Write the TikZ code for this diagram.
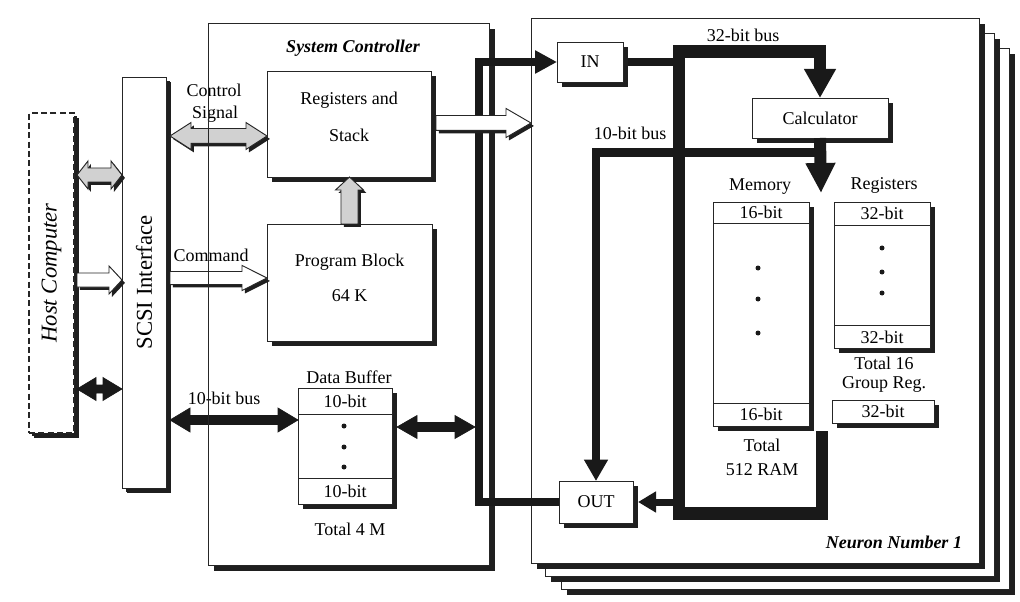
\documentclass[tikz,border=0pt]{standalone}
\usepackage{fontspec}
\setmainfont{Liberation Serif}
\usetikzlibrary{shadows,calc,arrows.meta}
% horizontal single fat arrow: style, tail, tip, shaft half, head half, head length
\newcommand\fatone[6]{%
  \draw[#1] let \p1=(#2), \p2=(#3), \n1={sign(\x2-\x1)} in
   (\x1,\y1+#4) -- (\x2-\n1*#6,\y1+#4) -- (\x2-\n1*#6,\y1+#5) -- (\x2,\y1)
   -- (\x2-\n1*#6,\y1-#5) -- (\x2-\n1*#6,\y1-#4) -- (\x1,\y1-#4) -- cycle;}
% horizontal double fat arrow
\newcommand\fattwo[6]{%
  \draw[#1] let \p1=(#2), \p2=(#3), \n1={sign(\x2-\x1)} in
   (\x1,\y1) -- (\x1+\n1*#6,\y1+#5) -- (\x1+\n1*#6,\y1+#4) -- (\x2-\n1*#6,\y1+#4)
   -- (\x2-\n1*#6,\y1+#5) -- (\x2,\y1) -- (\x2-\n1*#6,\y1-#5) -- (\x2-\n1*#6,\y1-#4)
   -- (\x1+\n1*#6,\y1-#4) -- (\x1+\n1*#6,\y1-#5) -- cycle;}
\begin{document}
\begin{tikzpicture}[x=0.75pt,y=-0.75pt,
  every node/.style={font=\fontsize{13.5}{16}\selectfont, inner sep=0pt, outer sep=0pt},
  sz/.style 2 args={minimum width=#1*0.75pt, minimum height=#2*0.75pt},
  shd/.style={drop shadow={shadow xshift=#1, shadow yshift=-#1, fill=black!88, opacity=1}},
  box/.style={draw=black!85, line width=0.7pt, fill=white, shd=3.75pt},
  bigbox/.style={draw=black!85, line width=0.7pt, fill=white, shd=4.5pt},
  bus/.style={draw=black!90, line width=#1, line join=miter},
  fatgray/.style={draw=black!85, line width=0.7pt, fill=black!18, shd=2.2pt},
  fatwhite/.style={draw=black!85, line width=0.7pt, fill=white, shd=2.2pt},
  fatblack/.style={fill=black!90, draw=black!90, line width=0.5pt},
  rowline/.style={draw=black!85, line width=0.6pt},
  dotm/.style={fill=black!90},
  big/.style={font=\fontsize{17}{20}\selectfont},
  title/.style={font=\fontsize{13.5}{16}\selectfont\bfseries\itshape}
]
\useasboundingbox (0,0) rectangle (1020,602);

% ---------- neuron stack and system controller ----------
\node[bigbox, sz={448}{541}] (n3) at (785,318.5) {};
\node[bigbox, sz={449}{543}] (n2) at (769.5,304.5) {};
\node[bigbox, sz={448}{545}] (n1) at (755,290.5) {};
\node[bigbox, sz={281}{542}] (sys) at (348.5,294) {};

% ---------- host and SCSI ----------
\node[box, dash pattern=on 4.5pt off 2.5pt, line width=0.8pt, sz={45}{320}, shd=2.25pt] (host) at (51.5,273) {};
\node[rotate=90, font=\fontsize{17}{20}\selectfont\itshape] (hostT) at (host) {Host Computer};
\node[box, sz={44}{411}, shd=3pt] (scsi) at (144,282.5) {};
\node[rotate=90, big] (scsiT) at (scsi) {SCSI Interface};

% ---------- helper coordinates ----------
\coordinate (lbx) at (479,0);
\coordinate (b32tl) at (679,51.5);
\coordinate (b32bl) at (679,513.5);
\coordinate (b32br) at (822,513.5);
\coordinate (b32end) at (822,431);
\coordinate (t10a) at (821,152.5);
\coordinate (t10b) at (596,152.5);
\coordinate (calcTip) at (821,193);

% ---------- inner boxes of neuron (placed first for anchors) ----------
\node[box, sz={66}{40}] (in) at (590,62) {IN};
\node[box, sz={74}{42}] (out) at (596,502) {OUT};
\node[box, sz={136}{40}] (calc) at (820,118) {Calculator};

% ---------- buses ----------
\draw[bus=6.4pt, -{Triangle[length=16.5pt,width=16.5pt]}]
  (out.west) -- (out.west -| lbx) -- (in.west -| lbx) -- (in.west);
\draw[bus=6pt] (in.east) -- (in.east -| b32tl);
\draw[bus=9.4pt, -{Triangle[length=21.75pt,width=22.5pt]}]
  (b32end) -- (b32br) -- (b32bl) -- (b32tl) -- (b32tl -| calc.north) -- (calc.north);
\draw[bus=9pt, -{Triangle[length=22.5pt,width=21pt]}] (calc.south) -- (calcTip);
\draw[bus=6.4pt, -{Triangle[length=16pt,width=17pt]}] (t10a) -- (t10b) -- (out.north);
\draw[bus=5.25pt, -{Triangle[length=13.5pt,width=15pt]}] (out.east -| b32bl) -- ([xshift=3.75pt]out.east);

% redraw boxes over bus ends
\node[box, sz={66}{40}] (in2) at (in) {IN};
\node[box, sz={74}{42}] (out2) at (out) {OUT};

% ---------- system controller contents ----------
\node[title] (sysT) at (353,48) {System Controller};
\node[box, sz={164}{106}] (regs) at (349,124) {};
\node (regsT1) at (349,100) {Registers and};
\node (regsT2) at (349,135) {Stack};
\node[box, sz={165}{117}] (prog) at (349.5,282.5) {};
\node (progT1) at (349.5,262) {Program Block};
\node (progT2) at (349.5,296) {64 K};

\node[box, sz={94}{116}] (buf) at (345,446) {};
\draw[rowline] ($(buf.north west)+(0,26)$) -- ($(buf.north east)+(0,26)$);
\draw[rowline] ($(buf.south west)+(0,-26)$) -- ($(buf.south east)+(0,-26)$);
\node (bufT1) at (345,401) {10-bit};
\node (bufT2) at (345,491) {10-bit};
\fill[dotm] (344,426) circle (2.5);
\fill[dotm] (344,447) circle (2.5);
\fill[dotm] (344,467) circle (2.5);
\node (bufL) at (349,377) {Data Buffer};
\node (bufB) at (350,529) {Total 4 M};

% ---------- neuron contents ----------
\node (b32T) at (743,35) {32-bit bus};
\node (b10nT) at (630,133) {10-bit bus};

\node[box, sz={96}{224}] (mem) at (761,314) {};
\draw[rowline] ($(mem.north west)+(0,21)$) -- ($(mem.north east)+(0,21)$);
\draw[rowline] ($(mem.south west)+(0,-23)$) -- ($(mem.south east)+(0,-23)$);
\node (memT1) at (761,212.5) {16-bit};
\node (memT2) at (761,414.5) {16-bit};
\fill[dotm] (758,268) circle (2.5);
\fill[dotm] (758,299) circle (2.5);
\fill[dotm] (758,333) circle (2.5);
\node (memL) at (760,187) {Memory};
\node (memB1) at (762,445) {Total};
\node (memB2) at (762,470) {512 RAM};

\node[box, sz={96}{146}] (reg) at (882,275) {};
\draw[rowline] ($(reg.north west)+(0,23)$) -- ($(reg.north east)+(0,23)$);
\draw[rowline] ($(reg.south west)+(0,-23)$) -- ($(reg.south east)+(0,-23)$);
\node (regT1) at (882,213.5) {32-bit};
\node (regT2) at (882,337) {32-bit};
\fill[dotm] (882,248) circle (2.5);
\fill[dotm] (882,272) circle (2.5);
\fill[dotm] (882,293) circle (2.5);
\node (regL) at (884,185) {Registers};
\node (regB1) at (884,363) {Total 16};
\node (regB2) at (884,384) {Group Reg.};
\node[box, sz={102}{23}] (reg32) at (883,411.5) {32-bit};

\node[title, anchor=east] (nT) at (962,542) {Neuron Number 1};

% ---------- fat arrows ----------
\coordinate (hostR) at ([xshift=2.25pt]host.east);
\coordinate (scsiR) at ([xshift=3pt]scsi.east);
\coordinate (regsR) at ([xshift=3.75pt]regs.east);
\coordinate (bufR) at ([xshift=3.75pt]buf.east);
\coordinate (lvA) at (0,175);
\coordinate (lvB) at (0,280);
\coordinate (lvC) at (0,389);
\coordinate (lvCS) at (0,136);
\coordinate (lvCmd) at (0,278);
\coordinate (lvRN) at (0,123);
\coordinate (lv10) at (0,420);
\coordinate (lvDB) at (0,427);
\coordinate (busL) at (475,0);

\fattwo{fatgray}{hostR |- lvA}{scsi.west |- lvA}{5.25pt}{10.5pt}{8.25pt}
\fatone{fatwhite}{hostR |- lvB}{scsi.west |- lvB}{5.25pt}{10.5pt}{9.75pt}
\fattwo{fatblack}{hostR |- lvC}{scsi.west |- lvC}{3pt}{8.6pt}{14.25pt}

\fattwo{fatgray}{scsiR |- lvCS}{regs.west |- lvCS}{5.6pt}{10.1pt}{15.75pt}
\fatone{fatwhite}{scsiR |- lvCmd}{prog.west |- lvCmd}{4.9pt}{9.4pt}{18.75pt}
\fatone{fatwhite}{regsR |- lvRN}{n1.west |- lvRN}{5.6pt}{10.9pt}{18.75pt}
\fattwo{fatblack}{scsiR |- lv10}{buf.west |- lv10}{3.4pt}{9pt}{15pt}
\fattwo{fatblack}{bufR |- lvDB}{busL |- lvDB}{3.4pt}{8.6pt}{15pt}

% program block -> registers (vertical)
\draw[fatgray] let \p1=(prog.north), \p2=(regs.south) in
  (\x1-6.4pt,\y1) -- (\x1-6.4pt,\y2-9.75pt) -- (\x1-10.5pt,\y2-9.75pt) -- (\x1,\y2)
  -- (\x1+10.5pt,\y2-9.75pt) -- (\x1+6.4pt,\y2-9.75pt) -- (\x1+6.4pt,\y1) -- cycle;

% ---------- labels on the left ----------
\node (csT1) at (214,90) {Control};
\node (csT2) at (215,114) {Signal};
\node (cmdT) at (211,255) {Command};
\node (b10T) at (224,398) {10-bit bus};

% left edge of system controller drawn through arrows and labels
\draw[draw=black!85, line width=0.7pt] (sys.north west) -- (sys.south west);
\end{tikzpicture}
\end{document}
